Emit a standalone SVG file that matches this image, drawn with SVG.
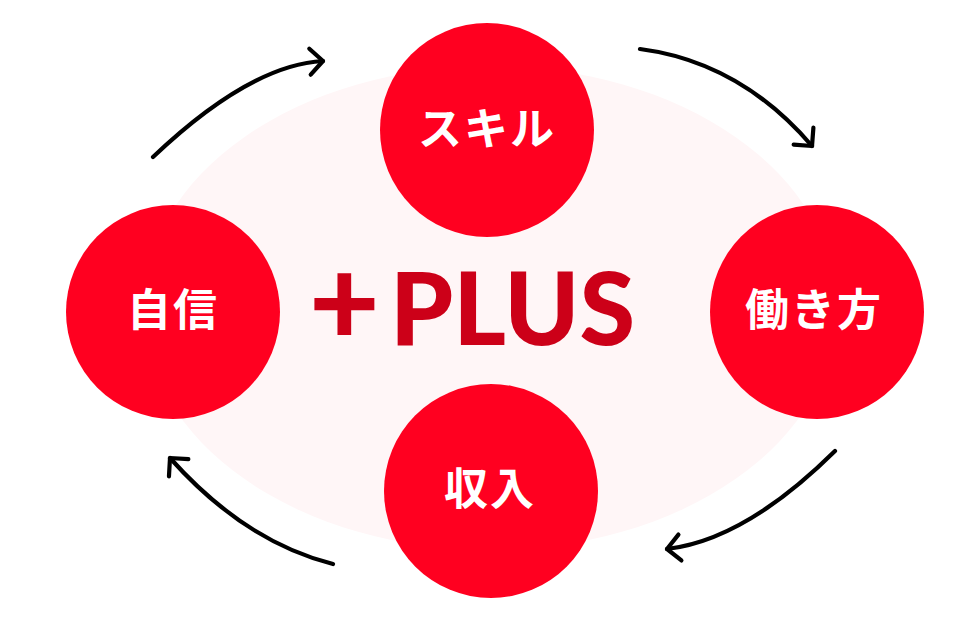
<svg xmlns="http://www.w3.org/2000/svg" width="960" height="630" viewBox="0 0 960 630">
<defs>
<style>
.node circle{fill:#FF0020;}
.label{font-family:"Noto Sans CJK JP","Noto Sans",sans-serif;font-weight:700;font-size:44px;fill:#FFFFFF;text-anchor:middle;letter-spacing:2px;}
.conn{fill:none;stroke:#000000;stroke-width:4.2;stroke-linecap:round;}
.head{fill:none;stroke:#000000;stroke-width:4.2;stroke-linecap:round;stroke-linejoin:round;}
.title{font-family:Lato,"Noto Sans",sans-serif;font-weight:900;font-size:101px;fill:#CC0018;}
</style>
<marker id="arrow" markerUnits="userSpaceOnUse" markerWidth="40" markerHeight="40" refX="0" refY="0" viewBox="-20 -20 40 40" orient="auto" overflow="visible">
<path class="head" d="M-13,-13 L0,0 L-13,13"/>
</marker>
</defs>
<rect width="960" height="630" fill="#FFFFFF"/>
<ellipse id="background" cx="490" cy="308" rx="347" ry="242" fill="#FFF6F7"/>
<g id="connectors">
<path class="conn" d="M153,157 Q250,65 323,61" marker-end="url(#arrow)"/>
<path class="conn" d="M640,49 Q740,62 812,146" marker-end="url(#arrow)"/>
<path class="conn" d="M835,451 Q745,540 667,549" marker-end="url(#arrow)"/>
<path class="conn" d="M333,564 Q245,542 170,458" marker-end="url(#arrow)"/>
</g>
<g id="center-title">
<text class="title" y="345"><tspan x="309" font-size="122">+</tspan><tspan x="390" textLength="245" lengthAdjust="spacingAndGlyphs">PLUS</tspan></text>
</g>
<g id="node-skill" class="node">
<circle cx="487" cy="130" r="107"/>
<text class="label" x="487" y="145">スキル</text>
</g>
<g id="node-hatarakikata" class="node">
<circle cx="817" cy="312" r="107"/>
<text class="label" x="814" y="326">働き方</text>
</g>
<g id="node-shunyu" class="node">
<circle cx="491" cy="491" r="107"/>
<text class="label" x="490" y="505">収入</text>
</g>
<g id="node-jishin" class="node">
<circle cx="173" cy="312" r="107"/>
<text class="label" x="173" y="326">自信</text>
</g>
</svg>
